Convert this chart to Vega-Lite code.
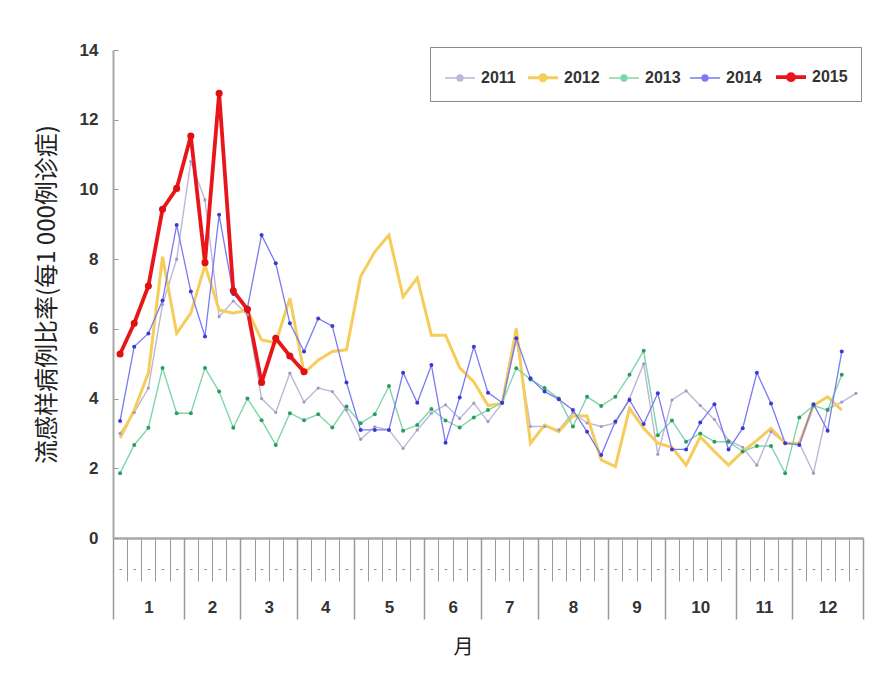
{
 "$schema": "https://vega.github.io/schema/vega-lite/v6.json",
 "width": 750, "height": 488,
 "autosize": {"type": "none"},
 "padding": {"left": 113, "top": 50, "right": 18, "bottom": 139},
 "background": "white",
 "config": {"view": {"stroke": null}, "font": "Liberation Sans"},
 "data": {"values": [
  {"week":1,"2011":3.0,"2012":2.87,"2013":1.86,"2014":3.36,"2015":5.28},
  {"week":2,"2011":3.6,"2012":3.67,"2013":2.67,"2014":5.49,"2015":6.16},
  {"week":3,"2011":4.3,"2012":4.73,"2013":3.16,"2014":5.87,"2015":7.23},
  {"week":4,"2011":6.7,"2012":8.07,"2013":4.88,"2014":6.81,"2015":9.43},
  {"week":5,"2011":8.0,"2012":5.87,"2013":3.58,"2014":8.98,"2015":10.03},
  {"week":6,"2011":10.8,"2012":6.45,"2013":3.58,"2014":7.07,"2015":11.53},
  {"week":7,"2011":9.7,"2012":7.83,"2013":4.88,"2014":5.78,"2015":7.9},
  {"week":8,"2011":6.35,"2012":6.54,"2013":4.2,"2014":9.27,"2015":12.76},
  {"week":9,"2011":6.8,"2012":6.45,"2013":3.16,"2014":7.0,"2015":7.09},
  {"week":10,"2011":6.4,"2012":6.54,"2013":4.0,"2014":6.6,"2015":6.56},
  {"week":11,"2011":4.0,"2012":5.68,"2013":3.38,"2014":8.69,"2015":4.46},
  {"week":12,"2011":3.6,"2012":5.6,"2013":2.67,"2014":7.88,"2015":5.73},
  {"week":13,"2011":4.73,"2012":6.88,"2013":3.58,"2014":6.16,"2015":5.22},
  {"week":14,"2011":3.9,"2012":4.73,"2013":3.38,"2014":5.35,"2015":4.77},
  {"week":15,"2011":4.3,"2012":5.1,"2013":3.55,"2014":6.3},
  {"week":16,"2011":4.2,"2012":5.35,"2013":3.17,"2014":6.08},
  {"week":17,"2011":3.67,"2012":5.4,"2013":3.77,"2014":4.46},
  {"week":18,"2011":2.83,"2012":7.5,"2013":3.29,"2014":3.1},
  {"week":19,"2011":3.19,"2012":8.21,"2013":3.55,"2014":3.1},
  {"week":20,"2011":3.1,"2012":8.69,"2013":4.36,"2014":3.1},
  {"week":21,"2011":2.57,"2012":6.92,"2013":3.08,"2014":4.74},
  {"week":22,"2011":3.1,"2012":7.46,"2013":3.24,"2014":3.88},
  {"week":23,"2011":3.58,"2012":5.82,"2013":3.7,"2014":4.96},
  {"week":24,"2011":3.82,"2012":5.82,"2013":3.37,"2014":2.73},
  {"week":25,"2011":3.43,"2012":4.88,"2013":3.17,"2014":4.03},
  {"week":26,"2011":3.87,"2012":4.48,"2013":3.46,"2014":5.49},
  {"week":27,"2011":3.34,"2012":3.8,"2013":3.67,"2014":4.17},
  {"week":28,"2011":3.86,"2012":3.86,"2013":3.88,"2014":3.88},
  {"week":29,"2011":5.7,"2012":6.01,"2013":4.87,"2014":5.73},
  {"week":30,"2011":3.2,"2012":2.72,"2013":4.55,"2014":4.58},
  {"week":31,"2011":3.2,"2012":3.24,"2013":4.3,"2014":4.2},
  {"week":32,"2011":3.1,"2012":3.05,"2013":4.0,"2014":3.98},
  {"week":33,"2011":3.6,"2012":3.5,"2013":3.2,"2014":3.67},
  {"week":34,"2011":3.3,"2012":3.5,"2013":4.05,"2014":3.05},
  {"week":35,"2011":3.2,"2012":2.24,"2013":3.79,"2014":2.38},
  {"week":36,"2011":3.3,"2012":2.05,"2013":4.05,"2014":3.34},
  {"week":37,"2011":4.0,"2012":3.72,"2013":4.68,"2014":3.96},
  {"week":38,"2011":5.0,"2012":3.15,"2013":5.37,"2014":3.27},
  {"week":39,"2011":2.4,"2012":2.72,"2013":2.95,"2014":4.15},
  {"week":40,"2011":3.96,"2012":2.6,"2013":3.37,"2014":2.54},
  {"week":41,"2011":4.22,"2012":2.09,"2013":2.76,"2014":2.54},
  {"week":42,"2011":3.8,"2012":2.9,"2013":3.0,"2014":3.31},
  {"week":43,"2011":3.4,"2012":2.48,"2013":2.76,"2014":3.84},
  {"week":44,"2011":2.8,"2012":2.09,"2013":2.76,"2014":2.54},
  {"week":45,"2011":2.6,"2012":2.48,"2013":2.48,"2014":3.15},
  {"week":46,"2011":2.09,"2012":2.8,"2013":2.64,"2014":4.74},
  {"week":47,"2011":3.05,"2012":3.15,"2013":2.64,"2014":3.86},
  {"week":48,"2011":2.72,"2012":2.72,"2013":1.86,"2014":2.72},
  {"week":49,"2011":2.72,"2012":2.72,"2013":3.46,"2014":2.67},
  {"week":50,"2011":1.86,"2012":3.8,"2013":3.8,"2014":3.84},
  {"week":51,"2011":3.7,"2012":4.05,"2013":3.67,"2014":3.08},
  {"week":52,"2011":3.9,"2012":3.67,"2013":4.68,"2014":5.35},
  {"week":53,"2011":4.15}
 ]},
 "transform": [
  {"fold": ["2011","2012","2013","2014","2015"], "as": ["year","value"]},
  {"filter": "isValid(datum.value)"}
 ],
 "encoding": {
  "y": {"field": "value", "type": "quantitative",
   "scale": {"domain": [0, 14], "nice": false, "zero": true},
   "axis": {"values": [0,2,4,6,8,10,12,14], "tickSize": -5, "tickColor": "#999999",
    "labelFont": "Liberation Sans", "labelFontWeight": "bold", "labelFontSize": 17, "labelColor": "#333333",
    "labelPadding": 20, "labelFlush": false, "domainColor": "#a8a8a8", "domainWidth": 2, "grid": false,
    "title": "流感样病例比率(每1 000例诊症)", "titleFont": "Noto Sans CJK SC", "titleFontSize": 24,
    "titleFontWeight": "normal", "titleColor": "#222222", "titlePadding": 20}}
 },
 "resolve": {"axis": {"x": "independent"}},
 "layer": [
  {
   "mark": {"type": "line"},
   "encoding": {
    "x": {"field": "week", "type": "quantitative",
     "scale": {"domain": [0.5, 53.5], "nice": false, "zero": false},
     "axis": {"orient": "bottom", "values": [0.5,1.5,2.5,3.5,4.5,5.5,6.5,7.5,8.5,9.5,10.5,11.5,12.5,13.5,14.5,15.5,16.5,17.5,18.5,19.5,20.5,21.5,22.5,23.5,24.5,25.5,26.5,27.5,28.5,29.5,30.5,31.5,32.5,33.5,34.5,35.5,36.5,37.5,38.5,39.5,40.5,41.5,42.5,43.5,44.5,45.5,46.5,47.5,48.5,49.5,50.5,51.5,52.5,53.5],
      "labels": false, "tickSize": 43, "tickColor": "#9a9a9a", "tickWidth": 1,
      "domainColor": "#a8a8a8", "domainWidth": 2.5, "grid": false, "title": null}},
    "color": {"field": "year", "type": "nominal",
     "scale": {"domain": ["2011","2012","2013","2014","2015"], "range": ["#bdb7d6","#f6cd5a","#80d6aa","#7a7af4","#e8161b"]},
     "legend": {"orient": "none", "legendX": 317, "legendY": -3, "direction": "horizontal", "columns": 5,
      "title": null, "strokeColor": "#8a8a8a", "padding": 13, "columnPadding": 6,
      "symbolType": "M-1,0H1M-0.2,0A0.2,0.2,0,1,0,0.2,0A0.2,0.2,0,1,0,-0.2,0",
      "symbolSize": 900, "symbolStrokeWidth": 1.5,
      "labelFont": "Liberation Sans", "labelFontSize": 16, "labelFontWeight": "bold", "labelColor": "#333333", "labelOffset": 4,
      "encode": {"symbols": {"update": {
        "fill": {"signal": "datum.value === '2012' ? 'transparent' : scale('color', datum.value)"},
        "strokeWidth": {"signal": "datum.value === '2015' ? 3.5 : (datum.value === '2012' ? 3 : 1.5)"}}}}}},
    "strokeWidth": {"field": "year", "type": "nominal",
     "scale": {"type": "ordinal", "domain": ["2011","2012","2013","2014","2015"], "range": [1.4, 3, 1.4, 1.3, 3.8]}, "legend": null}
   }
  },
  {
   "transform": [{"filter": "datum.year != '2012'"}],
   "mark": {"type": "point", "filled": true, "opacity": 1},
   "encoding": {
    "x": {"field": "week", "type": "quantitative",
     "scale": {"domain": [0.5, 53.5], "nice": false, "zero": false},
     "axis": {"orient": "bottom", "values": [1,2,3,4,5,6,7,8,9,10,11,12,13,14,15,16,17,18,19,20,21,22,23,24,25,26,27,28,29,30,31,32,33,34,35,36,37,38,39,40,41,42,43,44,45,46,47,48,49,50,51,52,53],
      "ticks": false, "domain": false, "labelExpr": "'-'", "labelFontSize": 9, "labelColor": "#555555",
      "labelPadding": 30, "labelBaseline": "middle", "labelOverlap": false, "labelFlush": false, "grid": false, "title": null}},
    "fill": {"field": "year", "type": "nominal",
     "scale": {"domain": ["2011","2013","2014","2015"], "range": ["#a098c0","#2a9e62","#3a3ad0","#e01010"]}, "legend": null},
    "size": {"field": "year", "type": "nominal",
     "scale": {"type": "ordinal", "domain": ["2011","2013","2014","2015"], "range": [10, 16, 16, 50]}, "legend": null}
   }
  },
  {
   "mark": {"type": "point", "opacity": 0},
   "encoding": {
    "x": {"field": "week", "type": "quantitative",
     "scale": {"domain": [0.5, 53.5], "nice": false, "zero": false},
     "axis": {"orient": "bottom", "values": [0.5,5.5,9.5,13.5,17.5,22.5,26.5,30.5,35.5,39.5,44.5,48.5,53.5],
      "labels": false, "domain": false, "tickSize": 81, "tickColor": "#999999", "tickWidth": 1.5, "grid": false, "title": null}}
   }
  },
  {
   "mark": {"type": "point", "opacity": 0},
   "encoding": {
    "x": {"field": "week", "type": "quantitative",
     "scale": {"domain": [0.5, 53.5], "nice": false, "zero": false},
     "axis": {"orient": "bottom", "values": [3,7.5,11.5,15.5,20,24.5,28.5,33,37.5,42,46.5,51],
      "labelExpr": "indexof([3,7.5,11.5,15.5,20,24.5,28.5,33,37.5,42,46.5,51], datum.value) + 1",
      "ticks": false, "domain": false, "labelPadding": 69, "labelBaseline": "middle",
      "labelFont": "Liberation Sans", "labelFontWeight": "bold", "labelFontSize": 17, "labelColor": "#333333",
      "labelOverlap": false, "labelFlush": false, "grid": false,
      "title": "月", "titleFont": "Noto Sans CJK SC", "titleFontSize": 20, "titleFontWeight": "normal",
      "titleColor": "#222222", "titlePadding": 22, "titleX": 350}}
   }
  }
 ]
}
